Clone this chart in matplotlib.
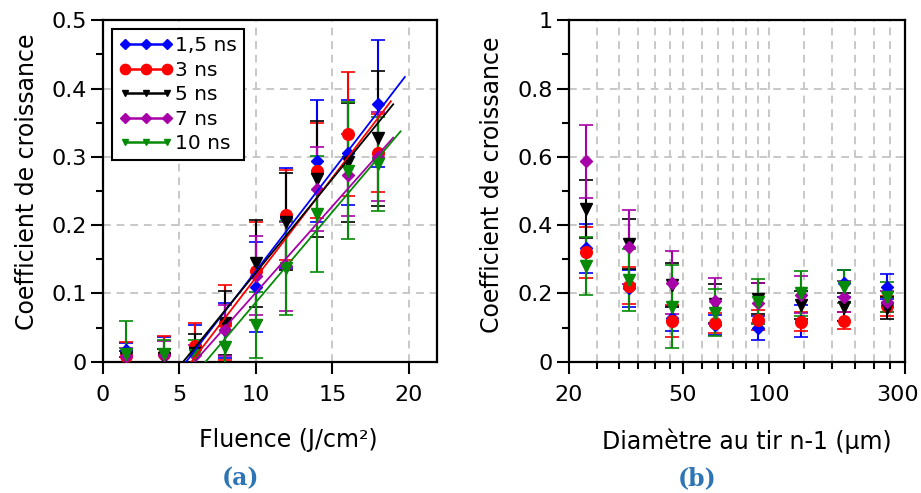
# -*- coding: utf-8 -*-
import matplotlib
matplotlib.use('Agg')
import matplotlib.pyplot as plt
from matplotlib.lines import Line2D
from matplotlib.ticker import FixedLocator, FuncFormatter, MultipleLocator
from matplotlib.transforms import ScaledTranslation
import numpy as np


# ---- Data : (a) coefficient vs fluence
fluence = [1.5, 4, 6, 8, 10, 12, 14, 16, 18]

blue_a = [0.017, 0.012, 0.020, 0.046, 0.110, 0.210, 0.294, 0.306, 0.378]
blue_a_err = [0.010, 0.024, 0.034, 0.040, 0.066, 0.073, 0.089, 0.077, 0.093]
red_a = [0.008, 0.012, 0.023, 0.057, 0.133, 0.215, 0.280, 0.333, 0.306]
red_a_err = [0.021, 0.026, 0.033, 0.055, 0.072, 0.066, 0.069, 0.091, 0.057]
black_a = [0.005, 0.006, 0.013, 0.057, 0.144, 0.205, 0.268, 0.292, 0.327]
black_a_err = [0.010, 0.012, 0.028, 0.047, 0.064, 0.071, 0.085, 0.087, 0.099]
purple_a = [0.008, 0.010, 0.010, 0.046, 0.126, 0.140, 0.253, 0.273, 0.300]
purple_a_err = [0.012, 0.020, 0.015, 0.037, 0.058, 0.065, 0.062, 0.060, 0.065]
green_a = [0.012, 0.012, 0.010, 0.022, 0.054, 0.137, 0.217, 0.280, 0.290]
green_a_err = [0.048, 0.020, 0.022, 0.030, 0.048, 0.069, 0.085, 0.100, 0.069]

# linear fits: threshold fluence, end of line, slope
fit_x0 = [5.45, 5.80, 5.26, 6.00, 6.72]
fit_x1 = [19.73, 18.82, 18.97, 18.97, 19.45]
fit_slope = [0.0292, 0.0293, 0.0275, 0.0253, 0.0265]

# ---- Data : (b) coefficient vs diameter of previous shot
diam = [23, 32.5, 46, 65, 92, 130, 184, 260]

blue_b = [0.332, 0.215, 0.127, 0.108, 0.098, 0.120, 0.230, 0.220]
blue_b_err = [0.072, 0.055, 0.036, 0.030, 0.035, 0.047, 0.039, 0.037]
red_b = [0.320, 0.222, 0.119, 0.113, 0.122, 0.117, 0.120, 0.163]
red_b_err = [0.076, 0.054, 0.046, 0.030, 0.030, 0.028, 0.025, 0.030]
black_b = [0.447, 0.344, 0.225, 0.170, 0.185, 0.166, 0.160, 0.157]
black_b_err = [0.085, 0.073, 0.065, 0.057, 0.045, 0.040, 0.040, 0.033]
purple_b = [0.587, 0.337, 0.232, 0.178, 0.171, 0.196, 0.190, 0.176]
purple_b_err = [0.107, 0.108, 0.093, 0.068, 0.059, 0.054, 0.045, 0.030]
green_b = [0.279, 0.240, 0.161, 0.144, 0.176, 0.200, 0.220, 0.190]
green_b_err = [0.085, 0.091, 0.121, 0.068, 0.066, 0.067, 0.048, 0.043]

labels = ['1,5 ns', '3 ns', '5 ns', '7 ns', '10 ns']
colors = ['#0000ff', '#ff0000', '#000000', '#a800a8', '#078a07']
markers = ['D', 'o', 'v', 'D', 'v']
msizes = [5.8, 8.4, 8.4, 5.8, 8.4]
leg_msizes = [5.6, 7.4, 4.5, 5.6, 4.5]

series_a = [(blue_a, blue_a_err), (red_a, red_a_err), (black_a, black_a_err),
            (purple_a, purple_a_err), (green_a, green_a_err)]
series_b = [(blue_b, blue_b_err), (red_b, red_b_err), (black_b, black_b_err),
            (purple_b, purple_b_err), (green_b, green_b_err)]

plt.rcParams['font.family'] = ['DejaVu Sans']
grid_kw = dict(color='#c8c8c8', ls=(0, (4, 3)), lw=1.4)

fig = plt.figure(figsize=(9.21, 4.93), dpi=100)
ax1 = fig.add_axes([0.1115, 0.2663, 0.3633, 0.6925])
ax2 = fig.add_axes([0.6178, 0.2663, 0.3648, 0.6925])


def style_axis(ax):
    for sp in ax.spines.values():
        sp.set_linewidth(1.6)
    ax.tick_params(which='major', direction='out', length=8.5, width=1.5,
                   labelsize=16, pad=3)
    ax.tick_params(which='minor', direction='out', length=5, width=1.5)
    ax.tick_params(axis='x', which='major', pad=8)
    ax.set_axisbelow(True)


fmt = FuncFormatter(lambda v, p: '{:g}'.format(round(v, 3)))

# ---- (a)
for (y, e), c, m, ms in zip(series_a, colors, markers, msizes):
    ax1.errorbar(fluence, y, yerr=e, fmt=m, color=c, ms=ms, mec=c,
                 elinewidth=1.5, capsize=5, capthick=1.2, zorder=3)
for x0, x1, a, c in zip(fit_x0, fit_x1, fit_slope, colors):
    xx = np.array([x0, x1])
    ax1.plot(xx, a * (xx - x0), color=c, lw=1.3, zorder=4)

ax1.set_xlim(0, 21.85)
ax1.set_ylim(0, 0.5)
ax1.xaxis.set_major_locator(MultipleLocator(5))
ax1.yaxis.set_major_locator(MultipleLocator(0.1))
ax1.yaxis.set_minor_locator(MultipleLocator(0.05))
ax1.yaxis.set_major_formatter(fmt)
ax1.grid(True, which='major', **grid_kw)
style_axis(ax1)
ax1.set_xlabel('Fluence (J/cm²)', fontsize=17)
ax1.set_ylabel('Coefficient de croissance', fontsize=17)
ax1.xaxis.set_label_coords(0.554, -0.195)
ax1.yaxis.set_label_coords(-0.19, 0.526)

handles = [Line2D([], [], color=c, marker=m, ms=ms, lw=1.8)
           for c, m, ms in zip(colors, markers, leg_msizes)]
leg = ax1.legend(handles, labels, loc='upper left', fontsize=14.5,
                 numpoints=3, handlelength=2.7, handletextpad=0.1,
                 labelspacing=0.27, borderpad=0.35, borderaxespad=0.45,
                 fancybox=False, framealpha=1, edgecolor='black')
leg.get_frame().set_linewidth(1.5)

# ---- (b)
for (y, e), c, m, ms in zip(series_b, colors, markers, msizes):
    ax2.errorbar(diam, y, yerr=e, fmt=m, color=c, ms=ms, mec=c,
                 elinewidth=1.5, capsize=5, capthick=1.2, zorder=3)

ax2.set_xscale('log')
ax2.set_xlim(20, 300)
ax2.set_ylim(0, 1)
major_b = [20, 50, 100, 300]
minor_b = np.concatenate([np.linspace(a, b, 7)[1:-1]
                          for a, b in zip(major_b[:-1], major_b[1:])])
ax2.xaxis.set_major_locator(FixedLocator(major_b))
ax2.xaxis.set_minor_locator(FixedLocator(minor_b))
ax2.xaxis.set_major_formatter(fmt)
ax2.xaxis.set_minor_formatter(FuncFormatter(lambda v, p: ''))
ax2.yaxis.set_major_locator(MultipleLocator(0.2))
ax2.yaxis.set_minor_locator(MultipleLocator(0.1))
ax2.yaxis.set_major_formatter(fmt)
ax2.grid(True, which='major', **grid_kw)
ax2.grid(True, which='minor', axis='x', **grid_kw)
style_axis(ax2)
ax2.set_xlabel('Diamètre au tir n-1 (µm)', fontsize=17)
ax2.set_ylabel('Coefficient de croissance', fontsize=17)
ax2.xaxis.set_label_coords(0.53, -0.195)
ax2.yaxis.set_label_coords(-0.193, 0.518)

# keep the last tick label ("300") inside the figure
fig.canvas.draw()
last = ax2.xaxis.get_majorticklabels()[-1]
last.set_transform(last.get_transform()
                   + ScaledTranslation(-7 / 100, 0, fig.dpi_scale_trans))

fig.text(0.261, 0.03, '(a)', color='#2e75b6', fontsize=17,
         fontweight='bold', family='DejaVu Serif', ha='center', va='center')
fig.text(0.757, 0.03, '(b)', color='#2e75b6', fontsize=17,
         fontweight='bold', family='DejaVu Serif', ha='center', va='center')

fig.savefig('out.png', dpi=100)
